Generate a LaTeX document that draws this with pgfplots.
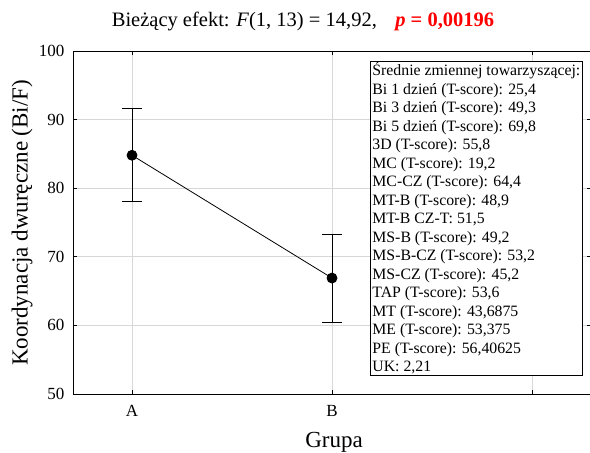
\documentclass[border=0pt]{standalone}
\usepackage{fontspec}
\setmainfont{Liberation Serif}
\usepackage{pgfplots}
\pgfplotsset{compat=1.18}
\definecolor{gridgray}{RGB}{215,215,215}
\begin{document}
\begin{tikzpicture}
\begin{axis}[
  name=ax,
  scale only axis,
  width=518pt, height=343pt,
  xmin=-0.295, xmax=2.295,
  ymin=50, ymax=100,
  xtick={0,1,2},
  xticklabels={A,B,},
  ytick={50,60,70,80,90,100},
  grid=major,
  major grid style={gridgray, line width=0.8pt},
  axis line style={black, line width=0.8pt},
  tick style={black, line width=0.6pt},
  major tick length=4pt,
  tick align=inside,
  /pgf/number format/assume math mode=true,
  ticklabel style={font=\fontsize{17}{20}\selectfont},
  xlabel={Grupa},
  ylabel={Koordynacja dwuręczne (Bi/F)},
  label style={font=\fontsize{23}{27}\selectfont},
  ylabel style={at={(axis description cs:0,0.499)}, anchor=south, yshift=37pt},
  xlabel style={at={(axis description cs:0.504,0)}, anchor=north, yshift=-35pt},
  xticklabel style={yshift=-8pt},
  yticklabel style={xshift=-5pt},
  clip=false,
]
\addplot[black, line width=0.8pt, mark=*, mark size=5pt,
  error bars/.cd, y dir=both, y explicit,
  error bar style={line width=0.9pt},
  error mark options={rotate=90, mark size=10pt, line width=0.9pt}]
  coordinates {
    (0,84.8) +- (0,6.8)
    (1,66.9) +- (0,6.4)
  };
\node[anchor=north west, draw=black, line width=0.8pt, fill=white, align=left,
  inner xsep=2pt, inner ysep=1pt,
  font=\fontsize{15.8}{18.5}\selectfont]
  at (rel axis cs:0.5734,0.9708) {%
  Średnie zmiennej towarzyszącej:\\
  Bi 1 dzień (T-score): 25,4\\
  Bi 3 dzień (T-score): 49,3\\
  Bi 5 dzień (T-score): 69,8\\
  3D (T-score): 55,8\\
  MC (T-score): 19,2\\
  MC-CZ (T-score): 64,4\\
  MT-B (T-score): 48,9\\
  MT-B CZ-T: 51,5\\
  MS-B (T-score): 49,2\\
  MS-B-CZ (T-score): 53,2\\
  MS-CZ (T-score): 45,2\\
  TAP (T-score): 53,6\\
  MT (T-score): 43,6875\\
  ME (T-score): 53,375\\
  PE (T-score): 56,40625\\
  UK: 2,21};
\node[anchor=base, font=\fontsize{20.5}{24}\selectfont]
  at (rel axis cs:0.444,1.072) {Bieżący efekt: \textit{F}(1, 13) = 14,92,\hspace{0.9em}\textcolor{red}{\textbf{\textit{p} = 0,00196}}};
\end{axis}
\pgfresetboundingbox
\path ([xshift=-73pt,yshift=-59pt]ax.south west) rectangle ([xshift=-1pt,yshift=51pt]ax.north east);
\end{tikzpicture}
\end{document}
